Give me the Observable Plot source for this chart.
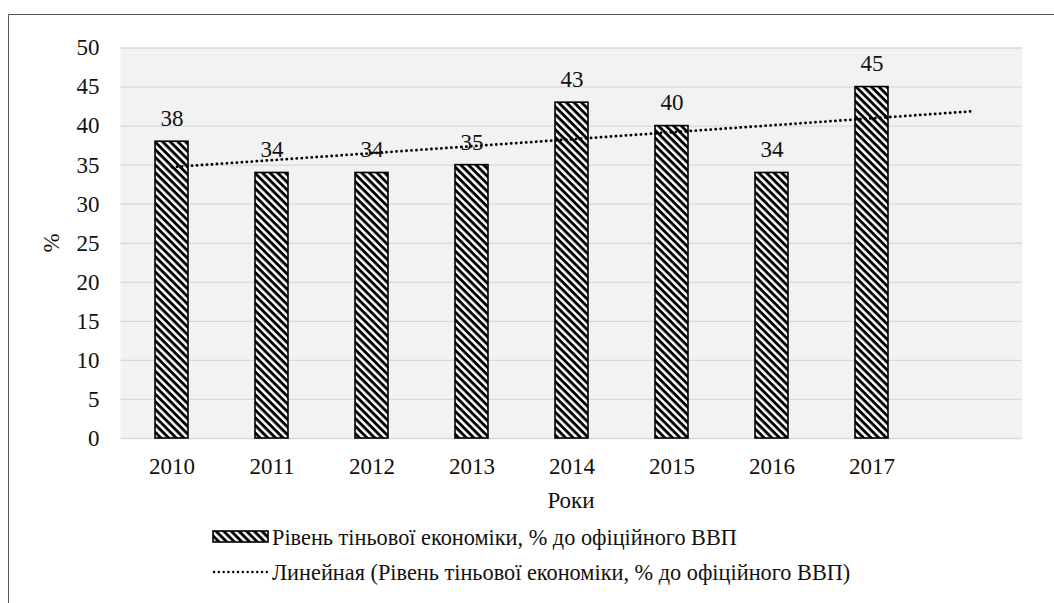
<!DOCTYPE html>
<html>
<head>
<meta charset="utf-8">
<script src="https://cdn.jsdelivr.net/npm/d3@7"></script>
<script src="https://cdn.jsdelivr.net/npm/@observablehq/plot@0.6"></script>
<style>
  html, body { margin: 0; padding: 0; background: white; }
  #chart { width: 1054px; height: 603px; }
  #chart svg, #chart svg text { font-family: "Liberation Serif", "DejaVu Serif", serif !important; }
</style>
</head>
<body>
<div id="chart"></div>
<script>
// ---- data ----
const years = ["2010", "2011", "2012", "2013", "2014", "2015", "2016", "2017"];
const values = [38, 34, 34, 35, 43, 40, 34, 45];
const forecastYear = "2018"; // one forecast period of the Excel linear trendline (blank category)
const yTicks = [0, 5, 10, 15, 20, 25, 30, 35, 40, 45, 50];
const xTitle = "Роки";
const yTitle = "%";
const seriesName = "Рівень тіньової економіки, % до офіційного ВВП";
const trendName = "Линейная (Рівень тіньової економіки, % до офіційного ВВП)";

const data = years.map((year, i) => ({year, value: values[i]}));

// least-squares linear trend (Excel "Linear" trendline), forward 1 period
const n = values.length;
const xs = values.map((_, i) => i + 1);
const mx = d3.mean(xs), my = d3.mean(values);
const slope = d3.sum(xs, (x, i) => (x - mx) * (values[i] - my)) / d3.sum(xs, x => (x - mx) ** 2);
const intercept = my - slope * mx;
const trend = [
  {year: years[0], value: intercept + slope * 1},
  {year: forecastYear, value: intercept + slope * (n + 1)}
];

const FONT = '"Liberation Serif", "DejaVu Serif", serif';
const FS = 23;
const LFS = 22.3;

const chart = Plot.plot({
  width: 1054,
  height: 603,
  marginLeft: 120,
  marginRight: 32,
  marginTop: 47.5,
  marginBottom: 165,
  style: {fontFamily: FONT, fontSize: FS + "px", background: "white", color: "#111", overflow: "visible"},
  x: {
    type: "band",
    domain: [...years, forecastYear],
    paddingInner: 0.67,
    paddingOuter: 0.335,
    tickSize: 0,
    tickPadding: 19,
    tickFormat: d => d === forecastYear ? "" : d,
    label: null
  },
  y: {
    domain: [0, 50],
    ticks: yTicks,
    tickSize: 0,
    tickPadding: 21,
    label: null
  },
  marks: [
    Plot.frame({fill: "#f2f2f2", stroke: "none"}),
    Plot.ruleY(yTicks, {stroke: "#d9d9d9", strokeWidth: 1.3}),
    Plot.barY(data, {x: "year", y: "value", fill: "url(#hatch)", stroke: "black", strokeWidth: 1.6}),
    Plot.line(trend, {x: "year", y: "value", stroke: "black", strokeWidth: 2.8, strokeDasharray: "0.1 4.9", strokeLinecap: "round"}),
    Plot.text(data, {x: "year", y: "value", text: d => String(d.value), dy: -23, fontSize: FS, fill: "#111"})
  ]
});

const svg = d3.select(chart);
const defs = svg.insert("defs", ":first-child");
const pat = defs.append("pattern")
  .attr("id", "hatch")
  .attr("patternUnits", "userSpaceOnUse")
  .attr("width", 5.4).attr("height", 5.4)
  .attr("patternTransform", "rotate(45)");
pat.append("rect").attr("x", 0).attr("y", 0).attr("width", 5.4).attr("height", 5.4).attr("fill", "white");
pat.append("rect").attr("x", 0).attr("y", 0).attr("width", 5.4).attr("height", 2.9).attr("fill", "black");

// outer chart border (top & left visible)
svg.append("path")
  .attr("d", "M8.5,603 V14.5 H1054")
  .attr("fill", "none").attr("stroke", "#595959").attr("stroke-width", 1);

// axis titles
svg.append("text")
  .attr("x", 571).attr("y", 500).attr("dy", "0.35em")
  .attr("text-anchor", "middle")
  .attr("font-family", FONT).attr("font-size", FS)
  .text(xTitle);
svg.append("text")
  .attr("transform", "translate(51,243) rotate(-90)")
  .attr("dy", "0.35em")
  .attr("text-anchor", "middle")
  .attr("font-family", FONT).attr("font-size", FS)
  .text(yTitle);

// legend
const lg = svg.append("g").attr("font-family", FONT).attr("font-size", LFS).attr("text-anchor", "start");
lg.append("rect").attr("x", 213).attr("y", 531).attr("width", 55).attr("height", 11)
  .attr("fill", "url(#hatch)").attr("stroke", "black").attr("stroke-width", 1.6);
lg.append("text").attr("x", 272).attr("y", 537).attr("dy", "0.35em").attr("text-anchor", "start").text(seriesName);
lg.append("line").attr("x1", 214).attr("x2", 267).attr("y1", 572).attr("y2", 572)
  .attr("stroke", "black").attr("stroke-width", 2.4)
  .attr("stroke-dasharray", "0.1 4.7").attr("stroke-linecap", "round");
lg.append("text").attr("x", 272).attr("y", 572).attr("dy", "0.35em").attr("text-anchor", "start").text(trendName);

document.getElementById("chart").appendChild(chart);
</script>
</body>
</html>
